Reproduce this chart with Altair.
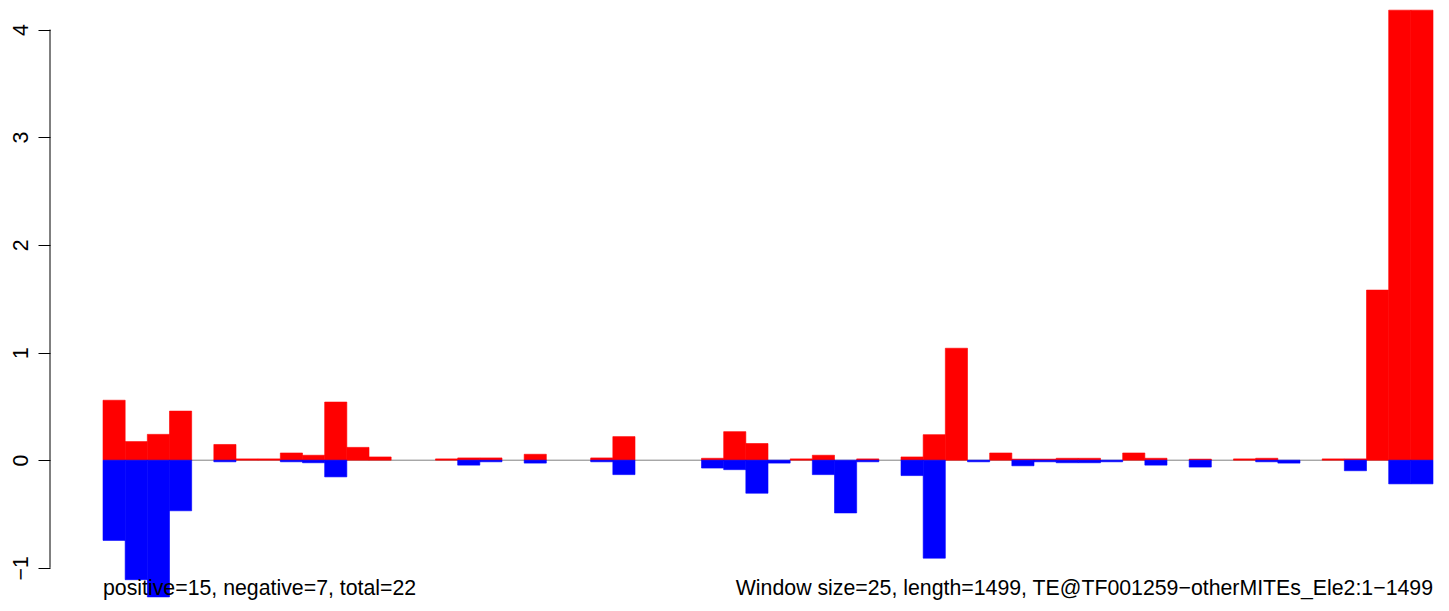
import altair as alt
import pandas as pd

# Per-window scores (60 windows of size 25 over 1499 bp)
pos_vals = [0.557, 0.173, 0.24, 0.456, 0, 0.146, 0.012, 0.012, 0.067, 0.046,
            0.54, 0.119, 0.03, 0, 0, 0.012, 0.021, 0.021, 0, 0.055,
            0, 0, 0.021, 0.219, 0, 0, 0, 0.018, 0.265, 0.155,
            0, 0.012, 0.046, 0, 0.012, 0, 0.03, 0.237, 1.04, 0,
            0.067, 0.01, 0.01, 0.018, 0.018, 0, 0.067, 0.018, 0, 0.01,
            0, 0.012, 0.018, 0, 0, 0.012, 0.012, 1.58, 4.18, 4.18]
neg_vals = [-0.745, -1.11, -1.27, -0.47, 0, -0.015, 0, 0, -0.015, -0.024,
            -0.155, 0, 0, 0, 0, 0, -0.046, -0.015, 0, -0.027,
            0, 0, -0.015, -0.134, 0, 0, 0, -0.073, -0.088, -0.307,
            -0.027, 0, -0.134, -0.49, -0.015, 0, -0.143, -0.91, 0, -0.015,
            0, -0.052, -0.015, -0.024, -0.024, -0.015, 0, -0.046, 0, -0.064,
            0, 0, -0.015, -0.027, 0, 0, -0.098, 0, -0.22, -0.22]
y_ticks = [-1, 0, 1, 2, 3, 4]
left_label = "positive=15, negative=7, total=22"
right_label = "Window size=25, length=1499, TE@TF001259\u2212otherMITEs_Ele2:1\u22121499"

n = len(pos_vals)
df = pd.DataFrame({
    "start": list(range(n)),
    "end": [i + 1 for i in range(n)],
    "pos": pos_vals,
    "neg": neg_vals,
    "zero": [0] * n,
})

FONT = "Liberation Sans"
FS = 21.3
x_scale = alt.Scale(domain=[-2.391, 60.27], nice=False, zero=False)
y_scale = alt.Scale(domain=[-1.28, 4.2], nice=False, zero=False)
y_axis = alt.Axis(values=y_ticks, domain=False, grid=False, tickSize=12,
                  tickColor="black", tickWidth=1, labelAngle=270,
                  labelAlign="center", labelBaseline="bottom",
                  labelPadding=7, labelFont=FONT, labelFontSize=FS,
                  labelColor="black", title=None, labelOverlap=False,
                  labelBound=False, labelFlush=False)

base = alt.Chart(df)

zero_line = base.mark_rule(color="#808080", strokeWidth=1).encode(
    x=alt.X("min(start):Q", scale=x_scale, axis=None),
    x2="max(end):Q",
    y=alt.Y("min(zero):Q", scale=y_scale, axis=y_axis),
)

red = base.transform_filter("datum.pos > 0").mark_bar(
    color="#FF0000", stroke="#FF0000", strokeWidth=0.6).encode(
    x=alt.X("start:Q", scale=x_scale, axis=None),
    x2="end:Q",
    y=alt.Y("pos:Q", scale=y_scale, axis=y_axis),
    y2="zero:Q",
)

blue = base.transform_filter("datum.neg < 0").mark_bar(
    color="#0000FF", stroke="#0000FF", strokeWidth=0.6).encode(
    x=alt.X("start:Q", scale=x_scale, axis=None),
    x2="end:Q",
    y=alt.Y("neg:Q", scale=y_scale, axis=y_axis),
    y2="zero:Q",
)

axis_line = alt.Chart(pd.DataFrame({"lo": [min(y_ticks)], "hi": [max(y_ticks)]})).mark_rule(
    color="black", strokeWidth=1).encode(
    x=alt.value(0),
    y=alt.Y("lo:Q", scale=y_scale, axis=y_axis),
    y2="hi:Q",
)

txt_left = alt.Chart(pd.DataFrame({"t": [left_label], "x": [0]})).mark_text(
    align="left", baseline="alphabetic", font=FONT, fontSize=FS, color="black").encode(
    x=alt.X("x:Q", scale=x_scale, axis=None),
    y=alt.value(587),
    text="t:N",
)
txt_right = alt.Chart(pd.DataFrame({"t": [right_label], "x": [n]})).mark_text(
    align="right", baseline="alphabetic", font=FONT, fontSize=FS, color="black").encode(
    x=alt.X("x:Q", scale=x_scale, axis=None),
    y=alt.value(587),
    text="t:N",
)

chart = alt.layer(zero_line, red, blue, axis_line, txt_left, txt_right).properties(
    width=1389, height=590,
    autosize=alt.AutoSizeParams(type="none"),
    padding={"left": 42, "top": 0, "right": 0, "bottom": 4},
).configure(background="white").configure_view(stroke=None)

chart.save("out.html", embed_options={"renderer": "svg", "actions": False})
